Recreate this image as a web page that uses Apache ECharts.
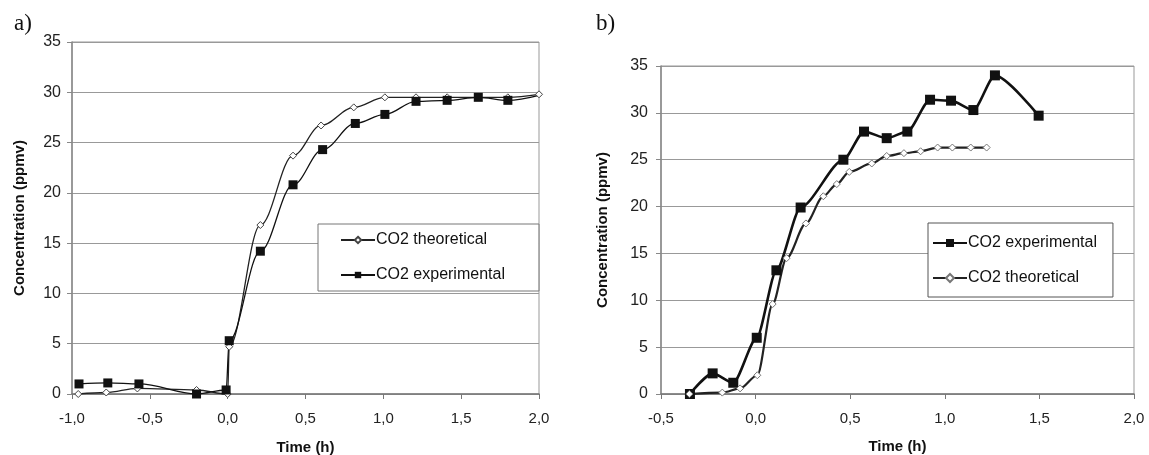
<!DOCTYPE html>
<html style="height: 100%">
<head>
<meta charset="utf-8">
<script src="https://cdn.jsdelivr.net/npm/echarts@6/dist/echarts.min.js"></script>
</head>
<body style="height: 100%; margin: 0; background: #fff">
<div id="container" style="width: 1149px; height: 455px"></div>
<script type="text/javascript">
// panel a) : [time (h), concentration (ppmv)]
var aTheoretical = [[-0.96, 0], [-0.78, 0.15], [-0.58, 0.55], [-0.2, 0.4], [0.0, 0], [0.01, 4.7],
    [0.21, 16.8], [0.42, 23.7], [0.6, 26.7], [0.81, 28.5], [1.01, 29.5], [1.21, 29.5],
    [1.41, 29.5], [1.61, 29.5], [1.8, 29.5], [2.0, 29.8]];
var aExperimental = [[-0.955, 1.0], [-0.77, 1.1], [-0.57, 1.0], [-0.2, 0], [-0.01, 0.4], [0.01, 5.3],
    [0.21, 14.2], [0.42, 20.8], [0.61, 24.3], [0.82, 26.9], [1.01, 27.8], [1.21, 29.1],
    [1.41, 29.2], [1.61, 29.5], [1.8, 29.2], [2.0, 29.7]];

// panel b)
var bExperimental = [[-0.347, 0], [-0.227, 2.2], [-0.118, 1.2], [0.006, 6.0], [0.11, 13.2], [0.238, 19.9],
    [0.464, 25.0], [0.573, 28.0], [0.693, 27.3], [0.802, 28.0], [0.922, 31.4], [1.033, 31.3],
    [1.151, 30.3], [1.265, 34.0], [1.496, 29.7]];
var bTheoretical = [[-0.35, 0], [-0.176, 0.15], [-0.082, 0.6], [0.009, 2.0], [0.09, 9.6], [0.164, 14.5],
    [0.266, 18.2], [0.358, 21.1], [0.429, 22.4], [0.495, 23.7], [0.614, 24.6], [0.693, 25.4],
    [0.784, 25.7], [0.872, 25.9], [0.962, 26.3], [1.04, 26.3], [1.137, 26.3], [1.221, 26.3]];

var panelLabels = ['a)', 'b)'];
var xTitle = 'Time (h)';
var yTitle = 'Concentration (ppmv)';
var nameTheo = 'CO2 theoretical';
var nameExp = 'CO2 experimental';

var dom = document.getElementById('container');
var myChart = echarts.init(dom);

var font = 'Liberation Sans, Arial, sans-serif';

function xAxisFor(i, min, nameGap) {
    return {
        type: 'value', gridIndex: i, min: min, max: 2, interval: 0.5,
        name: xTitle, nameLocation: 'middle', nameGap: nameGap,
        nameTextStyle: { fontFamily: font, fontWeight: 'bold', fontSize: 15, color: '#111' },
        axisLine: { onZero: false, lineStyle: { color: '#777', width: 1.5 } },
        axisTick: { show: true, length: 5, lineStyle: { color: '#777' } },
        splitLine: { show: false },
        axisLabel: {
            margin: 17, fontFamily: font, fontSize: 15, color: '#222',
            formatter: function (v) { return v.toFixed(1).replace('.', ','); }
        }
    };
}

function yAxisFor(i, nameGap, labelMargin) {
    return {
        type: 'value', gridIndex: i, min: 0, max: 35, interval: 5,
        name: yTitle, nameLocation: 'middle', nameGap: nameGap,
        nameTextStyle: { fontFamily: font, fontWeight: 'bold', fontSize: 15, color: '#111' },
        axisLine: { show: true, onZero: false, lineStyle: { color: '#888', width: 1.5 } },
        axisTick: { show: true, length: 5, lineStyle: { color: '#888' } },
        splitLine: { show: true, lineStyle: { color: '#999', width: 1 } },
        axisLabel: { margin: labelMargin, fontFamily: font, fontSize: 16, color: '#222' }
    };
}

var option = {
    animation: false,
    backgroundColor: '#fff',
    title: [
        { text: panelLabels[0], left: 9, top: 7, textStyle: { fontFamily: 'Liberation Serif, serif', fontWeight: 'normal', fontSize: 23, color: '#111' } },
        { text: panelLabels[1], left: 591, top: 7, textStyle: { fontFamily: 'Liberation Serif, serif', fontWeight: 'normal', fontSize: 23, color: '#111' } }
    ],
    grid: [
        { left: 72, top: 42, width: 467, height: 352, show: true, borderColor: '#999', borderWidth: 1, containLabel: false, outerBoundsMode: 'none' },
        { left: 661, top: 66, width: 473, height: 328, show: true, borderColor: '#999', borderWidth: 1, containLabel: false, outerBoundsMode: 'none' }
    ],
    xAxis: [xAxisFor(0, -1, 46), xAxisFor(1, -0.5, 45)],
    yAxis: [yAxisFor(0, 45, 11), yAxisFor(1, 51, 13)],
    legend: [
        {
            data: ['a ' + nameTheo, 'a ' + nameExp],
            orient: 'vertical', left: 318, top: 224,
            itemWidth: 34, itemHeight: 8, itemGap: 19,
            padding: [8, 34, 8, 22],
            backgroundColor: '#fff', borderColor: '#777', borderWidth: 1,
            formatter: function (n) { return n.slice(2); },
            textStyle: { fontFamily: font, fontSize: 16, color: '#111', padding: [0, 0, 0, -4] }
        },
        {
            data: ['b ' + nameExp, 'b ' + nameTheo],
            orient: 'vertical', left: 928, top: 223,
            itemWidth: 34, itemHeight: 10, itemGap: 19,
            padding: [12, 16, 11, 4],
            backgroundColor: '#fff', borderColor: '#555', borderWidth: 1,
            formatter: function (n) { return n.slice(2); },
            textStyle: { fontFamily: font, fontSize: 16, color: '#111', padding: [0, 0, 0, -4] }
        }
    ],
    series: [
        {
            name: 'a ' + nameTheo, type: 'line', xAxisIndex: 0, yAxisIndex: 0,
            data: aTheoretical, smooth: 0.35, smoothMonotone: 'x',
            symbol: 'diamond', symbolSize: 7, showAllSymbol: true,
            lineStyle: { color: '#222', width: 1.3 },
            itemStyle: { color: '#fff', borderColor: '#444', borderWidth: 1 }
        },
        {
            name: 'a ' + nameExp, type: 'line', xAxisIndex: 0, yAxisIndex: 0,
            data: aExperimental, smooth: 0.35, smoothMonotone: 'x',
            symbol: 'rect', showAllSymbol: true,
            symbolSize: function (v) { return v[0] >= 2 ? 0 : 9; },
            lineStyle: { color: '#111', width: 1.3 },
            itemStyle: { color: '#111' }
        },
        {
            name: 'b ' + nameExp, type: 'line', xAxisIndex: 1, yAxisIndex: 1,
            data: bExperimental, smooth: 0.25, smoothMonotone: 'x',
            symbol: 'rect', symbolSize: 10, showAllSymbol: true,
            lineStyle: { color: '#111', width: 2.6 },
            itemStyle: { color: '#111' }
        },
        {
            name: 'b ' + nameTheo, type: 'line', xAxisIndex: 1, yAxisIndex: 1,
            data: bTheoretical, smooth: 0.3, smoothMonotone: 'x',
            symbol: 'diamond', symbolSize: 7, showAllSymbol: true,
            lineStyle: { color: '#222', width: 2.2 },
            itemStyle: { color: '#fff', borderColor: '#777', borderWidth: 1 }
        }
    ]
};

myChart.setOption(option);
</script>
</body>
</html>
